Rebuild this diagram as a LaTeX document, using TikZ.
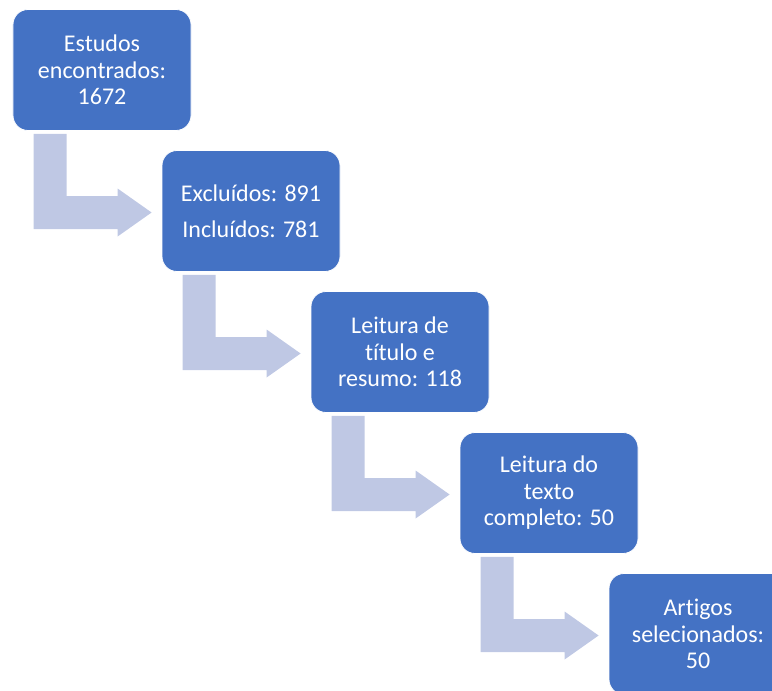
\documentclass[tikz,border=0pt]{standalone}
\usepackage{fontspec}
\setmainfont{Carlito}[Ligatures={NoCommon}]
\usetikzlibrary{calc}
\definecolor{boxblue}{RGB}{68,114,196}
\definecolor{arrowblue}{RGB}{191,200,228}
\tikzset{
  stepbox/.style={rectangle, rounded corners=15bp, fill=boxblue, draw=white, line width=0.8bp,
    minimum width=178bp, minimum height=121bp, text=white, align=center, inner sep=0pt,
    font=\fontsize{24bp}{26.5bp}\selectfont},
  arrowfill/.style={fill=arrowblue, draw=none}
}
\newcommand{\bentarrow}[2]{%
  \path[arrowfill] let \p1=(#1.south west), \p2=(#2.west) in
    (\x1+21bp,\y1-3bp) -- (\x1+21bp,\y2-18bp) -- (\x2-44bp,\y2-18bp) -- (\x2-44bp,\y2-25.5bp)
    -- (\x2-10bp,\y2-1.5bp) -- (\x2-44bp,\y2+22.5bp) -- (\x2-44bp,\y2+15bp)
    -- (\x1+54bp,\y2+15bp) -- (\x1+54bp,\y1-3bp) -- cycle;}
\begin{document}
\begin{tikzpicture}[x=1bp,y=-1bp]
\useasboundingbox (0,0) rectangle (772,691);
\clip (0,0) rectangle (772,691);
\node[stepbox] (b1) at (102,70) {Estudos\\encontrados:\\1672};
\node[stepbox] (b2) at (251,211) {Excluídos: 891\\[9.5bp]Incluídos: 781};
\node[stepbox] (b3) at (400,352) {Leitura de\\título e\\resumo: 118};
\node[stepbox] (b4) at (549,493) {Leitura do\\texto\\completo: 50};
\node[stepbox] (b5) at (698,634) {Artigos\\selecionados:\\50};
\bentarrow{b1}{b2}
\bentarrow{b2}{b3}
\bentarrow{b3}{b4}
\bentarrow{b4}{b5}
\end{tikzpicture}
\end{document}
